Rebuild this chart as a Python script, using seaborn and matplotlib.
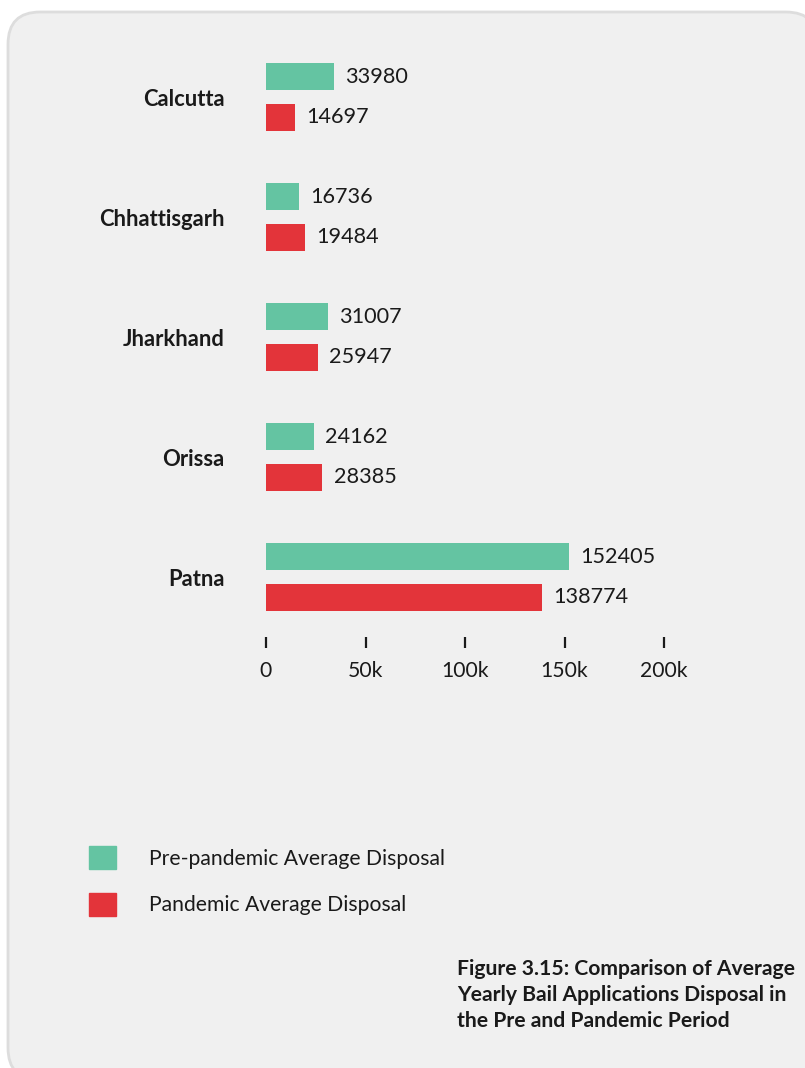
import seaborn as sns
import pandas as pd
import matplotlib.pyplot as plt
from matplotlib.patches import FancyBboxPatch

courts = ["Calcutta", "Chhattisgarh", "Jharkhand", "Orissa", "Patna"]
pre_pandemic = [33980, 16736, 31007, 24162, 152405]
pandemic = [14697, 19484, 25947, 28385, 138774]
series = ["Pre-pandemic Average Disposal", "Pandemic Average Disposal"]
x_ticks = [0, 50000, 100000, 150000, 200000]
x_tick_labels = ["0", "50k", "100k", "150k", "200k"]
caption = ("Figure 3.15: Comparison of Average\n"
           "Yearly Bail Applications Disposal in\n"
           "the Pre and Pandemic Period")

df = pd.DataFrame({
    "court": courts * 2,
    "value": pre_pandemic + pandemic,
    "series": [series[0]] * len(courts) + [series[1]] * len(courts),
})

sns.set_theme(style="white")
plt.rcParams["font.family"] = ["Lato", "DejaVu Sans"]
text_color = "#1a1a1a"
fs = 15.2

W, H = 805, 1068
fig = plt.figure(figsize=(W / 100, H / 100), dpi=100, facecolor="white")

# rounded grey panel behind everything
panel = FancyBboxPatch((8 / W, 1 - 1080 / H), 810 / W, 1068 / H,
                       boxstyle="round,pad=0,rounding_size=0.04",
                       transform=fig.transFigure, facecolor="#f0f0f0",
                       edgecolor="#dddddd", linewidth=2, zorder=-5,
                       mutation_aspect=W / H)
fig.patches.append(panel)

ax = fig.add_axes([266 / W, 1 - 637 / H, (664 - 266) / W, 600 / H])
ax.set_facecolor("none")
ax.set_zorder(2)

sns.barplot(data=df, y="court", x="value", hue="series", orient="h",
            palette=["#64c4a2", "#e3343a"], width=0.667, gap=0.325,
            ax=ax, legend=False, saturation=1, linewidth=0)

for cont in ax.containers:
    ax.bar_label(cont, labels=[f"{int(v)}" for v in cont.datavalues],
                 padding=8, fontsize=15.6, color=text_color)

ax.set_xlim(0, 200000)
ax.set_ylim(4.5, -0.5)
ax.set_xticks(x_ticks)
ax.set_xticklabels(x_tick_labels)
ax.set_xlabel("")
ax.set_ylabel("")
for s in ax.spines.values():
    s.set_visible(False)
ax.tick_params(axis="x", bottom=True, direction="out", length=8, width=1.6,
               color=text_color, pad=9, labelsize=fs, labelcolor=text_color)
ax.tick_params(axis="y", left=False, pad=24, labelsize=15.8, labelcolor=text_color)
for lbl in ax.get_yticklabels():
    lbl.set_fontweight("bold")

handles = [plt.Rectangle((0, 0), 1, 1, color=c) for c in ["#64c4a2", "#e3343a"]]
fig.legend(handles, series, loc="upper left",
           bbox_to_anchor=(89 / W, 1 - 846 / H), frameon=False,
           fontsize=fs, handlelength=1.3, handleheight=1.3,
           handletextpad=1.55, labelspacing=1.12, borderpad=0,
           borderaxespad=0, labelcolor=text_color)

fig.text(457 / W, 1 - 959 / H, caption, ha="left", va="top", fontsize=fs,
         fontweight="bold", color=text_color, linespacing=1.36)

fig.savefig("out.png", dpi=100)
